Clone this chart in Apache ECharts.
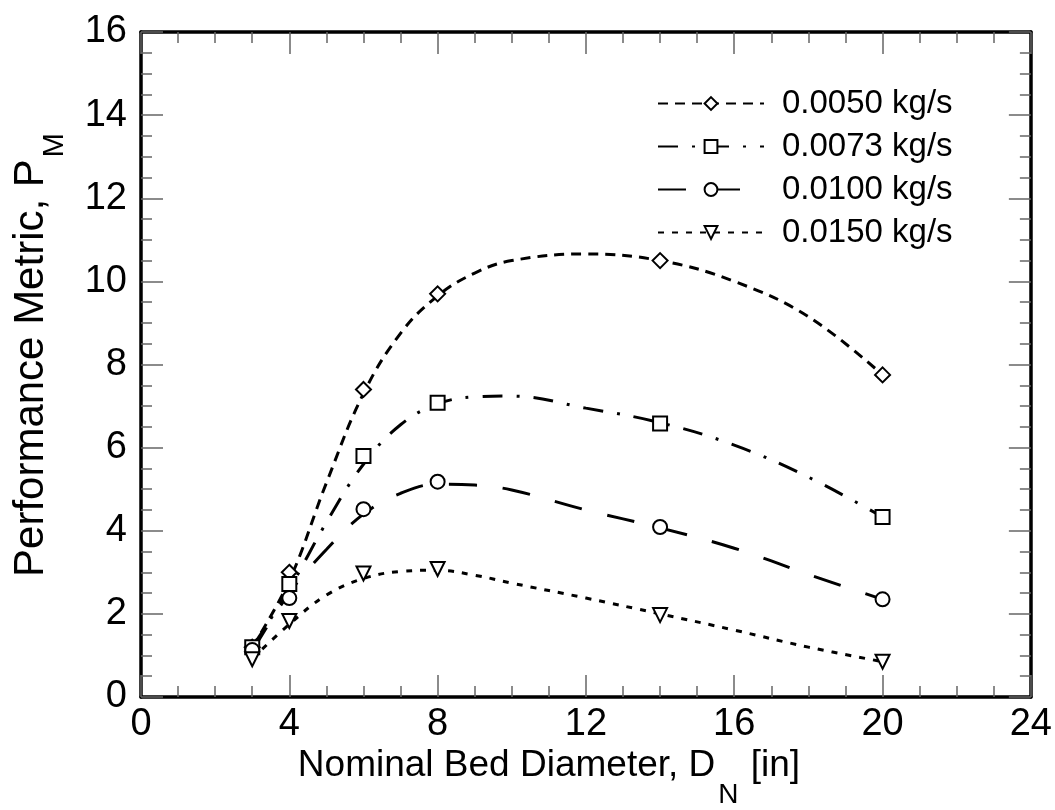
<!DOCTYPE html>
<html>
<head>
<meta charset="utf-8">
<script src="https://cdn.jsdelivr.net/npm/echarts@6/dist/echarts.min.js"></script>
<style>
html,body{margin:0;padding:0;background:#fff;}
#chart{width:1055px;height:810px;}
</style>
</head>
<body>
<div id="chart"></div>
<script>
// ---- data ----
const xTicks = [0, 4, 8, 12, 16, 20, 24];
const yTicks = [0, 2, 4, 6, 8, 10, 12, 14, 16];
const seriesNames = ['0.0050 kg/s', '0.0073 kg/s', '0.0100 kg/s', '0.0150 kg/s'];

// measured points
const xPoints = [3, 4, 6, 8, 14, 20];
const pm0050 = [1.20, 3.00, 7.40, 9.70, 10.50, 7.75];
const pm0073 = [1.20, 2.72, 5.80, 7.08, 6.58, 4.33];
const pm0100 = [1.13, 2.38, 4.52, 5.18, 4.09, 2.35];
const pm0150 = [0.91, 1.83, 2.97, 3.08, 1.97, 0.85];

// fitted curves
const curveX   = [3, 4, 5, 6, 7, 8, 9, 10, 12, 14, 16, 18, 20];
const fit0050  = [1.20, 2.80, 5.15, 7.30, 8.75, 9.65, 10.20, 10.50, 10.66, 10.50, 10.00, 9.15, 7.75];
const fit0073  = [1.20, 2.60, 4.20, 5.60, 6.55, 7.05, 7.22, 7.24, 6.95, 6.60, 6.06, 5.29, 4.33];
const fit0100  = [1.10, 2.50, 3.55, 4.40, 4.90, 5.12, 5.10, 4.98, 4.50, 4.07, 3.58, 2.95, 2.35];
const fit0150  = [0.92, 1.75, 2.45, 2.85, 3.02, 3.05, 2.93, 2.74, 2.38, 2.00, 1.61, 1.20, 0.85];

const pointSets = [pm0050, pm0073, pm0100, pm0150];
const curveSets = [fit0050, fit0073, fit0100, fit0150];
const symbols = ['diamond', 'rect', 'circle', 'triangle'];
const symbolRotations = [0, 0, 0, 180];
const symbolSizes = [15, 14, 14, 14];
const dashes = [[10, 7], [20, 14, 3, 14], [28, 26], [6, 8]];

const FONT = '"Liberation Sans", Arial, Helvetica, sans-serif';
const pair = (xs, ys) => xs.map((x, i) => [x, ys[i]]);

const chart = echarts.init(document.getElementById('chart'), null, {renderer: 'canvas'});

const tickStyle = {color: '#666', width: 1.5};
function makeAxis(ticks, position, showLabel) {
  return {
    type: 'value',
    position: position,
    min: ticks[0],
    max: ticks[ticks.length - 1],
    interval: ticks[1] - ticks[0],
    axisLine: {show: true, onZero: false, lineStyle: {color: '#000', width: 3.5}},
    axisTick: {show: true, inside: true, length: 22, lineStyle: tickStyle},
    minorTick: {show: true, splitNumber: 4, length: 11, lineStyle: tickStyle},
    splitLine: {show: false},
    minorSplitLine: {show: false},
    axisLabel: {show: showLabel, fontSize: 38, color: '#000', fontFamily: FONT, margin: (position === 'bottom' ? 9 : 14)}
  };
}

const series = [];
seriesNames.forEach((name, i) => {
  series.push({
    name: name,
    type: 'line',
    xAxisIndex: 0, yAxisIndex: 0,
    data: pair(curveX, curveSets[i]),
    smooth: 0.4,
    showSymbol: false,
    symbol: symbols[i],
    symbolRotate: symbolRotations[i],
    symbolSize: symbolSizes[i],
    lineStyle: {color: '#000', width: 3, type: dashes[i]},
    itemStyle: {color: '#fff', borderColor: '#000', borderWidth: 2},
    emphasis: {disabled: true},
    silent: true,
    z: 2
  });
});
seriesNames.forEach((name, i) => {
  series.push({
    name: name + ' pts',
    type: 'scatter',
    xAxisIndex: 0, yAxisIndex: 0,
    data: pair(xPoints, pointSets[i]),
    symbol: symbols[i],
    symbolRotate: symbolRotations[i],
    symbolSize: symbolSizes[i],
    itemStyle: {color: '#fff', borderColor: '#000', borderWidth: 2, opacity: 1},
    emphasis: {disabled: true},
    silent: true,
    z: 3
  });
});

const option = {
  backgroundColor: '#fff',
  animation: false,
  grid: {left: 141, right: 24, top: 32, bottom: 113, containLabel: false},
  xAxis: [makeAxis(xTicks, 'bottom', true), makeAxis(xTicks, 'top', false)],
  yAxis: [makeAxis(yTicks, 'left', true), makeAxis(yTicks, 'right', false)],
  legend: {
    data: seriesNames,
    orient: 'vertical',
    left: 652,
    top: 82,
    itemWidth: 106,
    itemHeight: 16,
    itemGap: 10,
    align: 'left',
    selectedMode: false,
    textStyle: {fontSize: 33, color: '#000', fontFamily: FONT, lineHeight: 33, padding: [0, 0, 0, 13]}
  },
  graphic: [
    {
      type: 'text',
      x: 549, y: 766,
      style: {
        text: '{a|Nominal Bed Diameter, D}{s|N}{a| [in]}',
        align: 'center', verticalAlign: 'middle',
        rich: {
          a: {fontSize: 37, fontFamily: FONT, fill: '#000'},
          s: {fontSize: 28, fontFamily: FONT, fill: '#000', padding: [58, 2, 0, 3]}
        }
      }
    },
    {
      type: 'text',
      x: 31, y: 355,
      rotation: Math.PI / 2,
      style: {
        text: '{a|Performance Metric, P}{s|M}',
        align: 'center', verticalAlign: 'middle',
        rich: {
          a: {fontSize: 42, fontFamily: FONT, fill: '#000'},
          s: {fontSize: 29, fontFamily: FONT, fill: '#000', padding: [48, 0, 0, 2]}
        }
      }
    }
  ],
  series: series
};
chart.setOption(option);
</script>
</body>
</html>
